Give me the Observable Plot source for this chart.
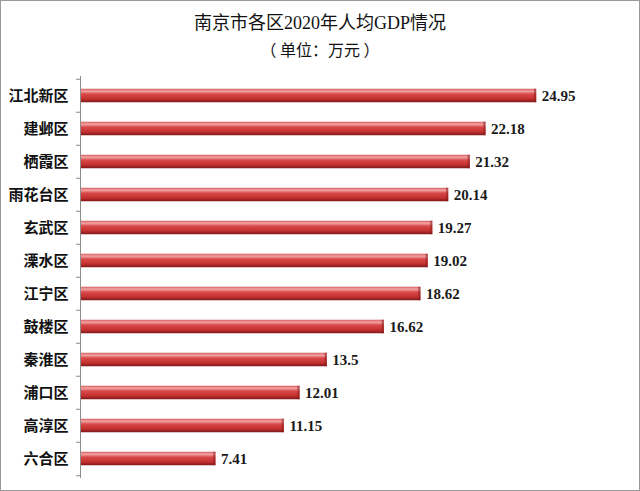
<!DOCTYPE html>
<html>
<head>
<meta charset="utf-8">
<script src="https://cdn.jsdelivr.net/npm/d3@7"></script>
<script src="https://cdn.jsdelivr.net/npm/@observablehq/plot@0.6"></script>
<style>
  html, body { margin: 0; padding: 0; background: #fff; }
  #wrap { width: 640px; height: 491px; box-sizing: border-box; border: 1px solid #9a9a9a; background: #fff; overflow: hidden; }
  #title { height: 36px; line-height: 44px; text-align: center; font-family: "Liberation Serif", "Noto Sans CJK SC", serif; font-size: 18px; color: #111; }
  #subtitle { height: 34px; line-height: 24px; text-align: center; font-family: "Noto Sans CJK SC", sans-serif; font-size: 16px; color: #111; }
  svg { display: block; }
</style>
</head>
<body>
<div id="wrap">
  <div id="title">南京市各区2020年人均GDP情况</div>
  <div id="subtitle">（ 单位：万元 ）</div>
  <div id="chart"></div>
</div>
<script>
const districts = ["江北新区", "建邺区", "栖霞区", "雨花台区", "玄武区", "溧水区", "江宁区", "鼓楼区", "秦淮区", "浦口区", "高淳区", "六合区"];
const gdpPerCapita = [24.95, 22.18, 21.32, 20.14, 19.27, 19.02, 18.62, 16.62, 13.5, 12.01, 11.15, 7.41];
const valueLabels = ["24.95", "22.18", "21.32", "20.14", "19.27", "19.02", "18.62", "16.62", "13.5", "12.01", "11.15", "7.41"];

const data = districts.map((d, i) => ({district: d, value: gdpPerCapita[i], label: valueLabels[i]}));

const H = 419, MT = 5, MB = 12;
const step = (H - MT - MB) / districts.length;
const inset = (step - 14) / 2;

const chart = Plot.plot({
  width: 638,
  height: H,
  marginLeft: 79,
  marginRight: 47,
  marginTop: MT,
  marginBottom: MB,
  style: {background: "#fff", overflow: "visible"},
  x: {domain: [0, 28], axis: null},
  y: {domain: districts, padding: 0, label: null},
  marks: [
    Plot.axisY({tickSize: 0, tickPadding: 12, fontSize: 15, fontFamily: "Noto Sans CJK SC", fill: "#111", fontWeight: "bold"}),
    Plot.barX(data, {y: "district", x: "value", fill: "url(#barGrad)", insetTop: inset, insetBottom: inset}),
    Plot.barX(data, {y: "district", x1: d => d.value - 0.12, x2: "value", fill: "#8a1c1c", fillOpacity: 0.55, insetTop: inset, insetBottom: inset}),
    Plot.text(data, {y: "district", x: "value", text: "label", textAnchor: "start", dx: 5, fontSize: 15, fontWeight: "bold", fontFamily: "Liberation Serif", fill: "#1a1a1a"}),
    Plot.ruleX([0], {stroke: "#8c8c8c", strokeWidth: 1}),
    Plot.ruleY(districts, {y: d => d, x1: -0.22, x2: 0, dy: -step / 2, stroke: "#8c8c8c"}),
    Plot.ruleY([districts[districts.length - 1]], {y: d => d, x1: -0.22, x2: 0, dy: step / 2, stroke: "#8c8c8c"})
  ]
});

const svg = d3.select(chart);
const defs = svg.insert("defs", ":first-child");
const g = defs.append("linearGradient").attr("id", "barGrad").attr("x1", 0).attr("y1", 0).attr("x2", 0).attr("y2", 1);
g.append("stop").attr("offset", "0%").attr("stop-color", "#d65a5a");
g.append("stop").attr("offset", "18%").attr("stop-color", "#f2a6a6");
g.append("stop").attr("offset", "40%").attr("stop-color", "#d94848");
g.append("stop").attr("offset", "75%").attr("stop-color", "#c33030");
g.append("stop").attr("offset", "100%").attr("stop-color", "#7e1818");

document.getElementById("chart").appendChild(chart);
</script>
</body>
</html>
